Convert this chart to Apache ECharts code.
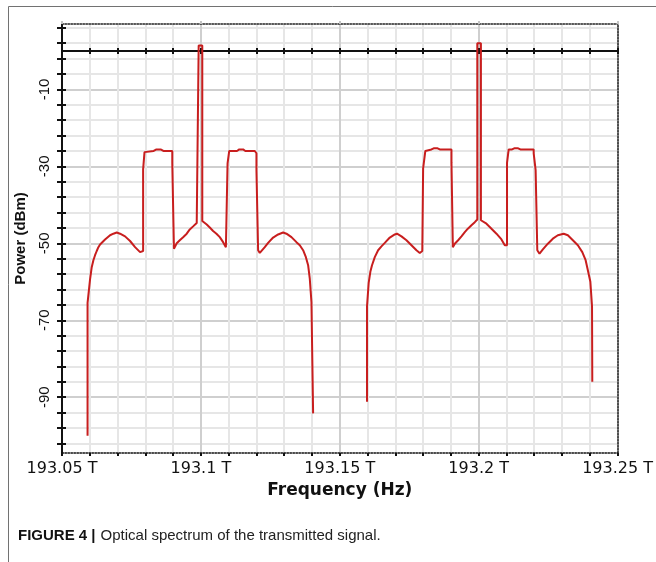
<!DOCTYPE html>
<html>
<head>
<meta charset="utf-8">
<script src="https://cdn.jsdelivr.net/npm/echarts@6/dist/echarts.min.js"></script>
<style>
  html, body { margin: 0; padding: 0; background: #ffffff; }
  #chart { width: 656px; height: 562px; }
</style>
</head>
<body>
<div id="chart"></div>
<script>
// Channel 1 (carrier at 193.1 THz): frequency in THz, power in dBm
const ch1Freq = [
  193.0592, 193.0592, 193.0595, 193.0601, 193.0607, 193.0613, 193.0619, 193.0625, 193.0631, 193.0637,
  193.0643, 193.0655, 193.0673, 193.0685, 193.0697, 193.0709, 193.0727, 193.0745, 193.0763, 193.0781,
  193.0787, 193.0792,
  193.0792, 193.0797, 193.0797, 193.0801, 193.0830, 193.0840, 193.0855, 193.0865, 193.0897, 193.0897,
  193.0903, 193.0903,
  193.0906, 193.0913, 193.0924, 193.0936, 193.0949, 193.0960, 193.0972, 193.0985, 193.0992,
  193.0992, 193.1005, 193.1005,
  193.1021, 193.1032, 193.1044, 193.1056, 193.1068, 193.1080, 193.1090, 193.1096,
  193.1096, 193.1102, 193.1102, 193.1130, 193.1138, 193.1152, 193.1160, 193.1194, 193.1200, 193.1200,
  193.1206, 193.1206,
  193.1212, 193.1218, 193.1230, 193.1242, 193.1260, 193.1278, 193.1296, 193.1308, 193.1326, 193.1344,
  193.1356, 193.1368, 193.1378, 193.1386, 193.1392, 193.1398, 193.1404, 193.1404
];
const ch1Power = [
  -100.0, -65.5, -65.5, -59.4, -56.2, -54.4, -53.1, -52.0, -51.0, -50.3,
  -49.8, -49.0, -47.9, -47.5, -47.2, -47.5, -48.2, -49.4, -51.0, -52.3,
  -52.7, -52.0,
  -30.8, -30.8, -26.3, -26.0, -26.0, -25.6, -25.6, -26.0, -26.0, -29.2,
  -29.5, -51.4,
  -51.4, -50.0, -49.2, -48.4, -47.5, -46.4, -45.6, -44.7, -44.2,
  1.4, 1.4, -44.2,
  -45.1, -45.9, -46.8, -47.5, -48.4, -49.7, -51.0, -51.4,
  -29.2, -29.0, -26.0, -26.0, -25.6, -25.6, -26.0, -26.0, -26.6, -31.0,
  -31.0, -51.8,
  -52.5, -52.0, -51.0, -49.9, -48.5, -47.7, -47.2, -47.5, -48.4, -49.7,
  -50.5, -51.8, -53.6, -55.7, -59.2, -65.3, -65.3, -94.2
];

// Channel 2 (carrier at 193.2 THz)
const ch2Freq = [
  193.1598, 193.1598, 193.1604, 193.1610, 193.1616, 193.1626, 193.1638, 193.1650, 193.1662, 193.1680,
  193.1698, 193.1706, 193.1722, 193.1740, 193.1758, 193.1776, 193.1788, 193.1797,
  193.1800, 193.1803, 193.1808, 193.1830, 193.1838, 193.1852, 193.1860, 193.1902, 193.1902, 193.1907,
  193.1907,
  193.1914, 193.1926, 193.1938, 193.1950, 193.1961, 193.1974, 193.1986, 193.1995,
  193.1995, 193.2008, 193.2008,
  193.2028, 193.2046, 193.2064, 193.2082, 193.2094, 193.2102,
  193.2102, 193.2108, 193.2120, 193.2128, 193.2142, 193.2150, 193.2198, 193.2198, 193.2205, 193.2211,
  193.2211,
  193.2219, 193.2231, 193.2249, 193.2267, 193.2285, 193.2306, 193.2321, 193.2339, 193.2357, 193.2373,
  193.2385, 193.2393, 193.2402, 193.2408, 193.2409
];
const ch2Power = [
  -91.2, -66.4, -60.3, -57.4, -55.7, -53.6, -51.8, -50.8, -49.9, -48.5,
  -47.7, -47.5, -48.2, -49.2, -50.5, -51.8, -52.5, -52.0,
  -30.5, -30.5, -26.0, -25.6, -25.3, -25.3, -25.6, -25.6, -28.9, -28.9,
  -51.0,
  -50.1, -49.2, -48.2, -47.1, -46.2, -45.3, -44.5, -43.8,
  2.0, 2.0, -44.0,
  -44.9, -46.2, -47.5, -49.0, -50.5, -50.5,
  -29.1, -25.6, -25.6, -25.3, -25.3, -25.6, -25.6, -26.6, -31.0, -31.0,
  -51.8,
  -52.7, -51.6, -50.1, -48.8, -47.9, -47.5, -47.9, -49.2, -50.5, -52.3,
  -54.4, -57.0, -60.0, -66.4, -86.0
];

// Axis ranges and tick labels
const xMin = 193.05, xMax = 193.25;
const yMin = -104.5, yMax = 7;
const xLabelValues = [193.05, 193.1, 193.15, 193.2, 193.25];
const xTickLabels = ['193.05 T', '193.1 T', '193.15 T', '193.2 T', '193.25 T'];
const yLabelValues = [-90, -70, -50, -30, -10];
const yTickValues = [-102, -98, -94, -90, -86, -82, -78, -74, -70, -66, -62, -58, -54, -50,
  -46, -42, -38, -34, -30, -26, -22, -18, -14, -10, -6, -2, 2, 6];

const zip = (xs, ys) => xs.map((x, i) => [x, ys[i]]);
const traceColor = '#c81e1e';
const ink = '#111111';

const hidden = { show: false };

const option = {
  animation: false,
  backgroundColor: '#ffffff',
  grid: { left: 62, top: 24, width: 556, height: 429, containLabel: false },
  title: {
    left: 18,
    top: 527,
    padding: 0,
    text: '{b|FIGURE 4 |} {r|Optical spectrum of the transmitted signal.}',
    textStyle: {
      fontWeight: 'normal',
      rich: {
        b: { fontFamily: 'Liberation Sans', fontWeight: 'bold', fontSize: 15, color: ink },
        r: { fontFamily: 'Liberation Sans', fontWeight: 'normal', fontSize: 15, color: '#222222' }
      }
    }
  },
  graphic: [{
    type: 'rect', silent: true, z: -10,
    shape: { x: 8.5, y: 6.5, width: 700, height: 600 },
    style: { fill: 'none', stroke: '#727272', lineWidth: 1 }
  }],
  xAxis: [
    {
      // frequency axis
      type: 'value', min: xMin, max: xMax, interval: 0.01, position: 'bottom',
      axisLine: { onZero: false, lineStyle: { color: ink, width: 1.5, type: 'dotted' } },
      axisTick: { show: true, length: 3, lineStyle: { color: ink, width: 2 } },
      axisLabel: {
        customValues: xLabelValues,
        formatter: (v) => {
          const i = xLabelValues.findIndex((t) => Math.abs(t - v) < 1e-6);
          return i >= 0 ? xTickLabels[i] : '';
        },
        color: ink, fontFamily: 'DejaVu Sans', fontSize: 16, margin: 8
      },
      splitLine: { show: true, lineStyle: { color: '#e6e6e6', width: 2 } },
      name: 'Frequency (Hz)', nameLocation: 'middle', nameGap: 29,
      nameTextStyle: { fontFamily: 'DejaVu Sans', fontWeight: 'bold', fontSize: 17, color: ink }
    },
    {
      // top border, heavier grid every 0.05 THz
      type: 'value', min: xMin, max: xMax, interval: 0.05, position: 'top',
      axisLine: { onZero: false, lineStyle: { color: '#222222', width: 1.5, type: 'dotted' } },
      axisTick: { show: true, length: 3, lineStyle: { color: '#c4c4c4', width: 2 } },
      axisLabel: hidden,
      splitLine: { show: true, lineStyle: { color: '#cfcfcf', width: 2 } }
    },
    {
      // 0 dBm reference line, ticks below
      type: 'value', min: xMin, max: xMax, interval: 0.01, position: 'bottom',
      axisLine: { onZero: true, onZeroAxisIndex: 0, lineStyle: { color: ink, width: 2 } },
      axisTick: { show: true, length: 3, lineStyle: { color: ink, width: 2 } },
      axisLabel: hidden, splitLine: hidden
    },
    {
      // 0 dBm reference line, ticks above
      type: 'value', min: xMin, max: xMax, interval: 0.01, position: 'bottom',
      axisLine: { onZero: true, onZeroAxisIndex: 0, lineStyle: { color: ink, width: 2 } },
      axisTick: { show: true, inside: true, length: 3, lineStyle: { color: ink, width: 2 } },
      axisLabel: hidden, splitLine: hidden
    }
  ],
  yAxis: [
    {
      // power axis
      type: 'value', min: yMin, max: yMax, position: 'left',
      axisLine: { show: true, onZero: false, lineStyle: { color: ink, width: 2 } },
      axisTick: { show: true, customValues: yTickValues, length: 5, lineStyle: { color: ink, width: 2 } },
      axisLabel: {
        customValues: yLabelValues, rotate: 90,
        color: ink, fontFamily: 'Liberation Sans', fontSize: 15, margin: 10
      },
      splitLine: { show: true, lineStyle: { color: '#e6e6e6', width: 2 } },
      name: 'Power (dBm)', nameLocation: 'middle', nameGap: 34,
      nameTextStyle: { fontFamily: 'Liberation Sans', fontWeight: 'bold', fontSize: 15, color: ink }
    },
    {
      // inner half of the power ticks
      type: 'value', min: yMin, max: yMax, position: 'left',
      axisLine: { show: false, onZero: false },
      axisTick: { show: true, inside: true, customValues: yTickValues, length: 4, lineStyle: { color: ink, width: 2 } },
      axisLabel: hidden, splitLine: hidden
    },
    {
      // heavier grid at the labelled power levels
      type: 'value', min: yMin, max: yMax, position: 'left',
      axisLine: { show: false, onZero: false },
      axisTick: { show: false, customValues: yLabelValues },
      axisLabel: hidden,
      splitLine: { show: true, lineStyle: { color: '#cfcfcf', width: 2 } }
    },
    {
      // right border
      type: 'value', min: yMin, max: yMax, position: 'right',
      axisLine: { show: true, onZero: false, lineStyle: { color: '#222222', width: 1.5, type: 'dotted' } },
      axisTick: hidden, axisLabel: hidden, splitLine: hidden
    }
  ],
  series: [
    {
      name: 'Channel 1', type: 'line', xAxisIndex: 0, yAxisIndex: 0,
      data: zip(ch1Freq, ch1Power), symbol: 'none', z: 5,
      lineStyle: { color: traceColor, width: 2 }
    },
    {
      name: 'Channel 2', type: 'line', xAxisIndex: 0, yAxisIndex: 0,
      data: zip(ch2Freq, ch2Power), symbol: 'none', z: 5,
      lineStyle: { color: traceColor, width: 2 }
    }
  ]
};

const chart = echarts.init(document.getElementById('chart'), null, { renderer: 'canvas' });
chart.setOption(option);
</script>
</body>
</html>
